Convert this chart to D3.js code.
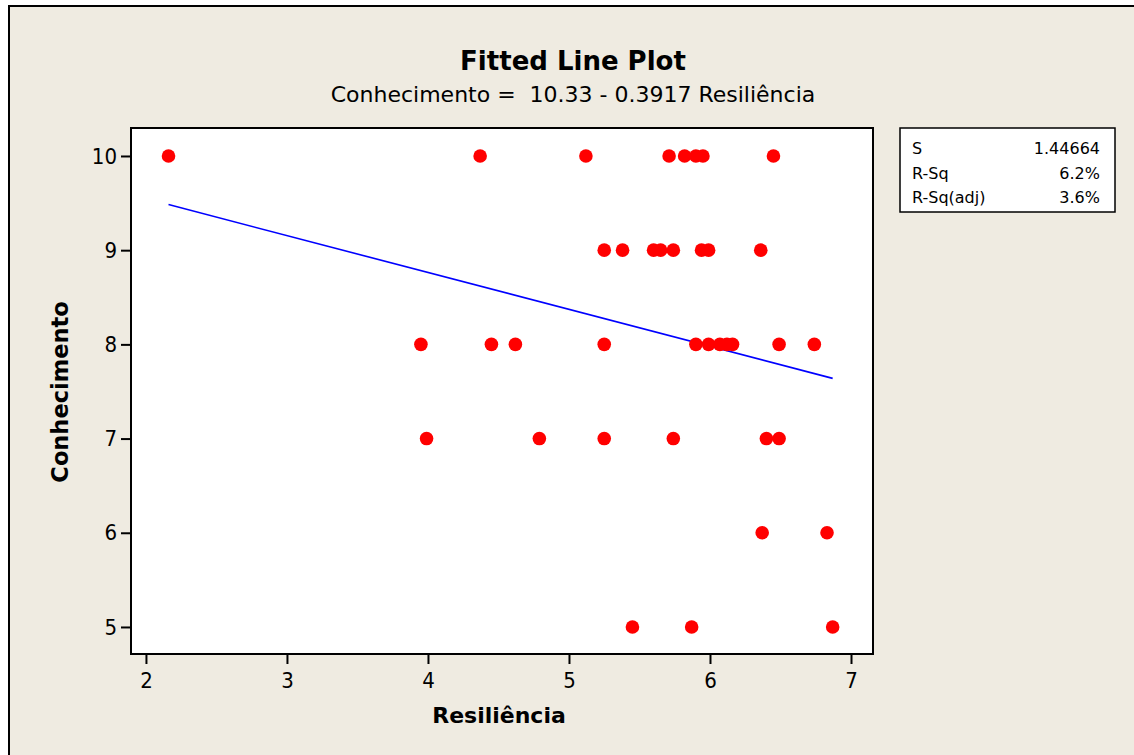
<!DOCTYPE html>
<html>
<head>
<meta charset="utf-8">
<script src="https://cdn.jsdelivr.net/npm/d3@7"></script>
<style>
  body { margin: 0; background: #fff; }
  svg text { font-family: "DejaVu Sans", sans-serif; fill: #000; }
  svg .tick text { font-family: "DejaVu Sans Condensed", "DejaVu Sans", sans-serif; }
</style>
</head>
<body>
<div id="chart"></div>
<script>
// data (Resiliência vs Conhecimento)
const resiliencia = [
  2.16, 4.37, 5.12, 5.71, 5.82, 5.90, 5.95, 6.45,
  5.25, 5.38, 5.60, 5.65, 5.74, 5.94, 5.99, 6.36,
  3.95, 4.45, 4.62, 5.25, 5.90, 5.99, 6.07, 6.12, 6.16, 6.49, 6.74,
  3.99, 4.79, 5.25, 5.74, 6.40, 6.49,
  6.37, 6.83,
  5.45, 5.87, 6.87
];
const conhecimento = [
  10, 10, 10, 10, 10, 10, 10, 10,
  9, 9, 9, 9, 9, 9, 9, 9,
  8, 8, 8, 8, 8, 8, 8, 8, 8, 8, 8,
  7, 7, 7, 7, 7, 7,
  6, 6,
  5, 5, 5
];
const intercept = 10.33, slope = -0.3917;
const xTicks = [2, 3, 4, 5, 6, 7];
const yTicks = [5, 6, 7, 8, 9, 10];
const statLabels = ["S", "R-Sq", "R-Sq(adj)"];
const statValues = ["1.44664", "6.2%", "3.6%"];

const W = 1134, H = 755;
const plot = { left: 131, top: 128, right: 873, bottom: 654 };

const svg = d3.select("#chart").append("svg")
    .attr("width", W)
    .attr("height", H);

// figure background + frame
svg.append("rect")
    .attr("x", 9).attr("y", 6)
    .attr("width", W).attr("height", H)
    .style("fill", "#efebe1")
    .style("stroke", "#000")
    .style("stroke-width", 2);

const x = d3.scaleLinear().domain([1.894, 7.156]).range([plot.left, plot.right]);
const y = d3.scaleLinear().domain([10.297, 4.713]).range([plot.top, plot.bottom]);

svg.append("rect")
    .attr("x", plot.left).attr("y", plot.top)
    .attr("width", plot.right - plot.left)
    .attr("height", plot.bottom - plot.top)
    .style("fill", "#fff")
    .style("stroke", "#000")
    .style("stroke-width", 2);

// axes
const xAxis = svg.append("g")
    .attr("transform", `translate(0, ${plot.bottom + 1})`)
    .call(d3.axisBottom(x).tickValues(xTicks).tickSize(9).tickPadding(8).tickFormat(d3.format("d")));
xAxis.select(".domain").remove();
xAxis.selectAll("line").style("stroke-width", 2);
xAxis.selectAll("text").style("font-size", "22px").style("font-family", null);

const yAxis = svg.append("g")
    .attr("transform", `translate(${plot.left - 1}, 0)`)
    .call(d3.axisLeft(y).tickValues(yTicks).tickSize(9).tickPadding(4).tickFormat(d3.format("d")));
yAxis.select(".domain").remove();
yAxis.selectAll("line").style("stroke-width", 2);
yAxis.selectAll("text").style("font-size", "22px").style("font-family", null);

// fitted line
const xr = d3.extent(resiliencia);
svg.append("line")
    .attr("x1", x(xr[0])).attr("y1", y(intercept + slope * xr[0]))
    .attr("x2", x(xr[1])).attr("y2", y(intercept + slope * xr[1]))
    .style("stroke", "#0000ff")
    .style("stroke-width", 1.6);

// points
svg.selectAll("circle.pt")
    .data(resiliencia.map((v, i) => [v, conhecimento[i]]))
    .join("circle")
    .attr("class", "pt")
    .attr("cx", d => x(d[0]))
    .attr("cy", d => y(d[1]))
    .attr("r", 6.8)
    .style("fill", "#ff0000");

// titles
svg.append("text")
    .attr("x", 573).attr("y", 70)
    .attr("text-anchor", "middle")
    .style("font-size", "26px").style("font-weight", "bold")
    .text("Fitted Line Plot");

svg.append("text")
    .attr("x", 573).attr("y", 102)
    .attr("text-anchor", "middle")
    .style("font-size", "22px")
    .style("white-space", "pre")
    .text("Conhecimento =  10.33 - 0.3917 Resiliência");

svg.append("text")
    .attr("x", 499).attr("y", 723)
    .attr("text-anchor", "middle")
    .style("font-size", "22px").style("font-weight", "bold")
    .text("Resiliência");

svg.append("text")
    .attr("transform", `translate(68, 392) rotate(-90)`)
    .attr("text-anchor", "middle")
    .style("font-size", "22.5px").style("font-weight", "bold")
    .text("Conhecimento");

// stats box
const box = svg.append("g").attr("transform", "translate(900, 128)");
box.append("rect")
    .attr("width", 215).attr("height", 84)
    .style("fill", "#fff")
    .style("stroke", "#000")
    .style("stroke-width", 1.5);
box.selectAll("text.lab")
    .data(statLabels)
    .join("text")
    .attr("class", "lab")
    .attr("x", 12)
    .attr("y", (d, i) => 26 + i * 24.5)
    .style("font-size", "16px")
    .text(d => d);
box.selectAll("text.val")
    .data(statValues)
    .join("text")
    .attr("class", "val")
    .attr("x", 200)
    .attr("y", (d, i) => 26 + i * 24.5)
    .attr("text-anchor", "end")
    .style("font-size", "16px")
    .text(d => d);
</script>
</body>
</html>
